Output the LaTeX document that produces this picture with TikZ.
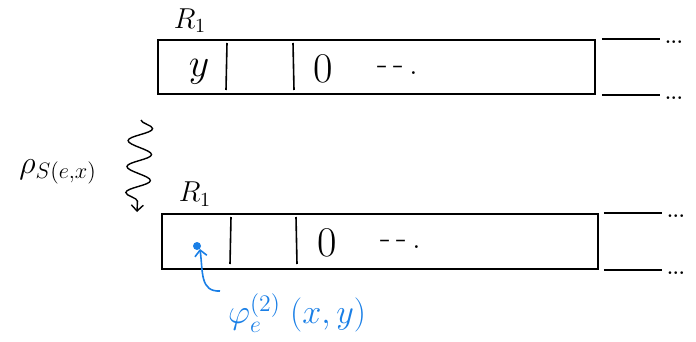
\documentclass[tikz,border=0pt]{standalone}
\usetikzlibrary{decorations.pathmorphing,arrows.meta}
\definecolor{hblue}{HTML}{1A7FE6}
\begin{document}
\begin{tikzpicture}[x=1pt,y=-1pt,
  box/.style={draw,line width=1.6pt,inner sep=0pt},
  ln/.style={line width=1.6pt},
  lbl/.style={inner sep=0pt},
  dots/.style={inner sep=0pt,anchor=west}]
\useasboundingbox (0,0) rectangle (696,342);
% top register
\node[box,minimum width=437pt,minimum height=54pt] (top) at (376.5,67) {};
\node[lbl] (rtop) at (190,21) {\scalebox{2}{\Large$R_1$}};
\draw[ln] (227,43) -- (226,90);
\draw[ln] (293,43) -- (294,90);
\node[lbl] (ytop) at (199,72) {\scalebox{1.6}{\Huge$y$}};
\node[lbl] (ztop) at (323,69) {\scalebox{1.7}{\Huge 0}};
\node[lbl] (dtop) at (398,70) {\scalebox{1.4}{\Huge -\,-\,.}};
\draw[ln] ([xshift=6pt]top.north east) -- ++(58,0) coordinate (te1);
\draw[ln] ([xshift=6pt]top.south east) -- ++(58,0) coordinate (te2);
\node[dots] (dt1) at ([xshift=5pt,yshift=-3pt]te1) {\scalebox{1.1}{\LARGE\bfseries...}};
\node[dots] (dt2) at ([xshift=5pt,yshift=-3pt]te2) {\scalebox{1.1}{\LARGE\bfseries...}};
% bottom register
\node[box,minimum width=436pt,minimum height=55pt] (bot) at (380,241.5) {};
\node[lbl] (rbot) at (195,194) {\scalebox{2}{\Large$R_1$}};
\draw[ln] (231,217) -- (230,264);
\draw[ln] (296,217) -- (297,264);
\node[circle,fill=hblue,inner sep=0pt,minimum size=8pt] (dot) at (197,246) {};
\node[lbl] (zbot) at (327,243) {\scalebox{1.7}{\Huge 0}};
\node[lbl] (dbot) at (401,244) {\scalebox{1.4}{\Huge -\,-\,.}};
\draw[ln] ([xshift=5pt]bot.north east) -- ++(58,0) coordinate (be1);
\draw[ln] ([xshift=5pt]bot.south east) -- ++(58,0) coordinate (be2);
\node[dots] (db1) at ([xshift=5pt,yshift=-3pt]be1) {\scalebox{1.1}{\LARGE\bfseries...}};
\node[dots] (db2) at ([xshift=5pt,yshift=-3pt]be2) {\scalebox{1.1}{\LARGE\bfseries...}};
% squiggle
\coordinate (s0) at (141,120);
\coordinate (s1) at (137,212);
\draw[line width=1.4pt,-{Straight Barb[length=6pt]},
  decoration={snake,amplitude=12pt,segment length=26pt,post length=6pt},decorate]
  (s0) -- (s1);
\node[lbl] (p) at (58,172) {\scalebox{1.55}{\huge$\rho_{S(e,x)}$}};
% blue annotation
\node[lbl,text=hblue,anchor=west] (phi) at (228,313) {\scalebox{1.65}{\huge$\varphi_e^{(2)}\;(x,y)$}};
\draw[hblue,line width=1.6pt,-{Straight Barb[length=6pt]}] (220,291) .. controls (200,292) and (203,272) .. (dot.south east);
\end{tikzpicture}
\end{document}
